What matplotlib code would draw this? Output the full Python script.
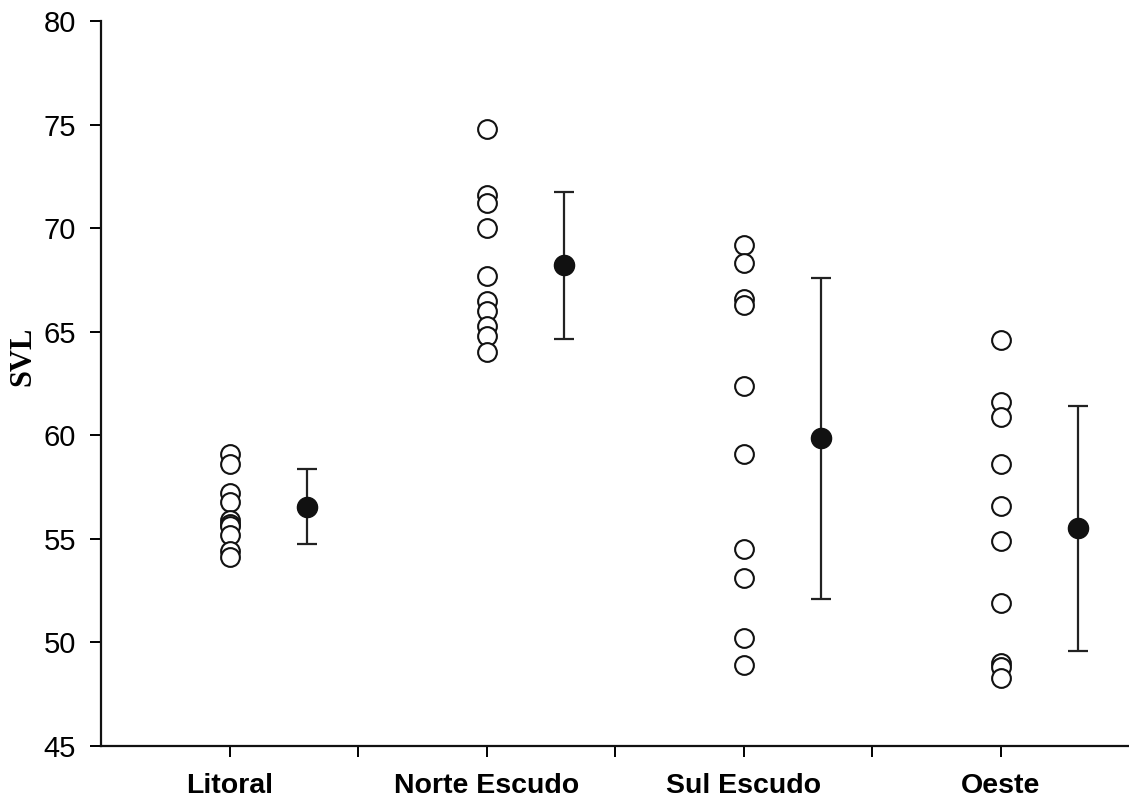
import numpy as np
import matplotlib
matplotlib.use("Agg")
import matplotlib.pyplot as plt

# groups and individual SVL values
groups = ["Litoral", "Norte Escudo", "Sul Escudo", "Oeste"]

litoral = [59.1, 58.6, 57.2, 56.8, 55.9, 55.7, 55.6, 55.2, 54.4, 54.1]
norte = [74.8, 71.6, 71.2, 70.0, 67.7, 66.5, 66.0, 65.3, 64.8, 64.0]
sul = [69.2, 68.3, 66.6, 66.3, 62.4, 59.1, 54.5, 53.1, 50.2, 48.9]
oeste = [64.6, 61.6, 60.9, 58.6, 56.6, 54.9, 51.9, 49.0, 48.8, 48.3]

# group means with error bar limits
means = [56.55, 68.2, 59.85, 55.5]
upper = [58.35, 71.75, 67.6, 61.4]
lower = [54.75, 64.65, 52.1, 49.6]

samples = [litoral, norte, sul, oeste]

plt.rcParams['font.family'] = ['Liberation Sans', 'DejaVu Sans']

fig = plt.figure(figsize=(11.29, 8.01), dpi=100)
ax = fig.add_axes([0.0895, 0.0687, 0.9105, 0.905])

pos = np.arange(len(groups)) * 2 + 1
for x, vals in zip(pos, samples):
    ax.plot([x] * len(vals), vals, 'o', ms=13.5, mfc='white', mec='#111111',
            mew=1.5, ls='none', zorder=3)

means = np.array(means)
yerr = [means - np.array(lower), np.array(upper) - means]
ax.errorbar(pos + 0.6, means, yerr=yerr, fmt='o', ms=14.5, mfc='#111111',
            mec='#111111', ecolor='#222222', elinewidth=1.6, capsize=7,
            capthick=1.6, zorder=4)

ax.set_xlim(0, 8)
ax.set_ylim(45, 80)
ax.set_yticks(np.arange(45, 81, 5))
ax.set_xticks(np.arange(1, 8))
# only every other tick carries a group name
ax.set_xticklabels([groups[i // 2] if i % 2 == 0 else "" for i in range(7)],
                   fontweight='bold', fontsize=20.5)
ax.tick_params(axis='y', labelsize=21, length=8, width=1.4, pad=10,
               direction='out')
ax.tick_params(axis='x', length=8, width=1.4, pad=11.5, direction='out')

for s in ['top', 'right']:
    ax.spines[s].set_visible(False)
for s in ['left', 'bottom']:
    ax.spines[s].set_linewidth(1.6)
    ax.spines[s].set_color('#111111')

ax.set_ylabel("SVL", family='Liberation Serif', fontweight='bold',
              fontsize=22)
ax.yaxis.set_label_coords(-0.062, 0.537)

fig.savefig("out.png", dpi=100)
